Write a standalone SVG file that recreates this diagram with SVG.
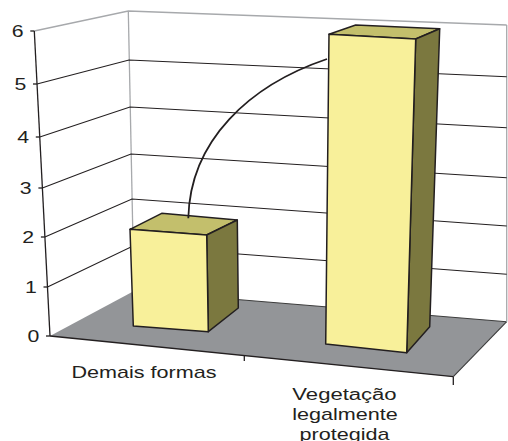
<svg xmlns="http://www.w3.org/2000/svg" width="508" height="441" viewBox="0 0 508 441">
<style>
.bg{fill:#ffffff}
.floor{fill:#939598;stroke:none}
.grid{stroke:#231f20;stroke-width:1.1;fill:none}
.wall{stroke:#a7a9ac;stroke-width:1.3;fill:none}
.axis{stroke:#231f20;stroke-width:1.3;fill:none}
.edge{stroke:#3d3d3d;stroke-width:1.1;fill:none}
.front{fill:#f8f09a;stroke:#231f20;stroke-width:1.5;stroke-linejoin:round}
.top{fill:#c3bf6c;stroke:#231f20;stroke-width:1.5;stroke-linejoin:round}
.side{fill:#7b783f;stroke:#231f20;stroke-width:1.5;stroke-linejoin:round}
.curve{stroke:#231f20;stroke-width:1.8;fill:none}
.lbl{font-family:"Liberation Sans",Arial,sans-serif;font-size:16px;fill:#231f20}
</style>
<rect class="bg" x="0" y="0" width="508" height="441"/>
<g id="floor">
<polygon class="floor" points="50,336 134,291 506.7,321.7 453.3,376.7"/>
<polyline class="edge" points="134,291 506.7,321.7"/>
<line class="edge" x1="453.3" y1="376.7" x2="506.7" y2="321.7"/>
</g>
<g id="walls">
<polyline class="wall" points="34.3,31 128.3,11 506.7,25"/>
<line class="wall" x1="128.3" y1="11" x2="134" y2="291"/>
<line class="wall" x1="506.7" y1="25" x2="506.7" y2="321.7"/>
<polyline class="grid" points="37,84 129,60 506.7,76.7"/>
<polyline class="grid" points="39.8,137 130,107 506.7,127.7"/>
<polyline class="grid" points="42.4,188 131,154 506.7,177.7"/>
<polyline class="grid" points="44.9,237 132,199 506.7,226"/>
<polyline class="grid" points="47.5,287 133,246 506.7,274.3"/>
</g>
<g id="axes">
<line class="axis" x1="34.3" y1="31" x2="50" y2="336"/>
<line class="axis" x1="50" y1="336" x2="453.3" y2="376.7"/>
<line class="axis" x1="30.3" y1="31" x2="34.3" y2="31"/>
<line class="axis" x1="33" y1="84" x2="37" y2="84"/>
<line class="axis" x1="35.8" y1="137" x2="39.8" y2="137"/>
<line class="axis" x1="38.4" y1="188" x2="42.4" y2="188"/>
<line class="axis" x1="40.9" y1="237" x2="44.9" y2="237"/>
<line class="axis" x1="43.5" y1="287" x2="47.5" y2="287"/>
<line class="axis" x1="46" y1="336" x2="50" y2="336"/>
<line class="axis" x1="244.3" y1="355.6" x2="244.3" y2="361"/>
<line class="axis" x1="453.3" y1="376.7" x2="453.3" y2="385"/>
</g>
<g id="ticklabels" class="lbl" text-anchor="end">
<text transform="translate(23.6,37) scale(1.33,1)">6</text>
<text transform="translate(26.3,90) scale(1.33,1)">5</text>
<text transform="translate(29.1,143) scale(1.33,1)">4</text>
<text transform="translate(31.7,194) scale(1.33,1)">3</text>
<text transform="translate(34.2,243) scale(1.33,1)">2</text>
<text transform="translate(36.8,293) scale(1.33,1)">1</text>
<text transform="translate(39.3,342) scale(1.33,1)">0</text>
</g>
<g id="bar-demais">
<polygon class="top" points="130,229.3 161.7,213.3 237.3,220 206.7,235"/>
<polygon class="side" points="206.7,235 237.3,220 238.3,308 208.3,331.7"/>
<polygon class="front" points="130,229.3 206.7,235 208.3,331.7 133.3,326"/>
</g>
<g id="bar-vegetacao">
<polygon class="top" points="329,34.3 355.7,25 439.7,28.7 415.7,39"/>
<polygon class="side" points="415.7,39 439.7,28.7 429.7,326.7 406.7,352.7"/>
<polygon class="front" points="329,34.3 415.7,39 406.7,352.7 325.7,344"/>
</g>
<g id="connectors">
<path class="curve" d="M188.3,218.3 C190,140 250,85 327,59"/>
</g>
<g id="categories" class="lbl" text-anchor="middle">
<text transform="translate(144,378) scale(1.35,1)">Demais formas</text>
<text transform="translate(344.5,400) scale(1.38,1)">Vegetação</text>
<text transform="translate(345,419.5) scale(1.35,1)">legalmente</text>
<text transform="translate(344.5,440) scale(1.35,1)">protegida</text>
</g>
</svg>
